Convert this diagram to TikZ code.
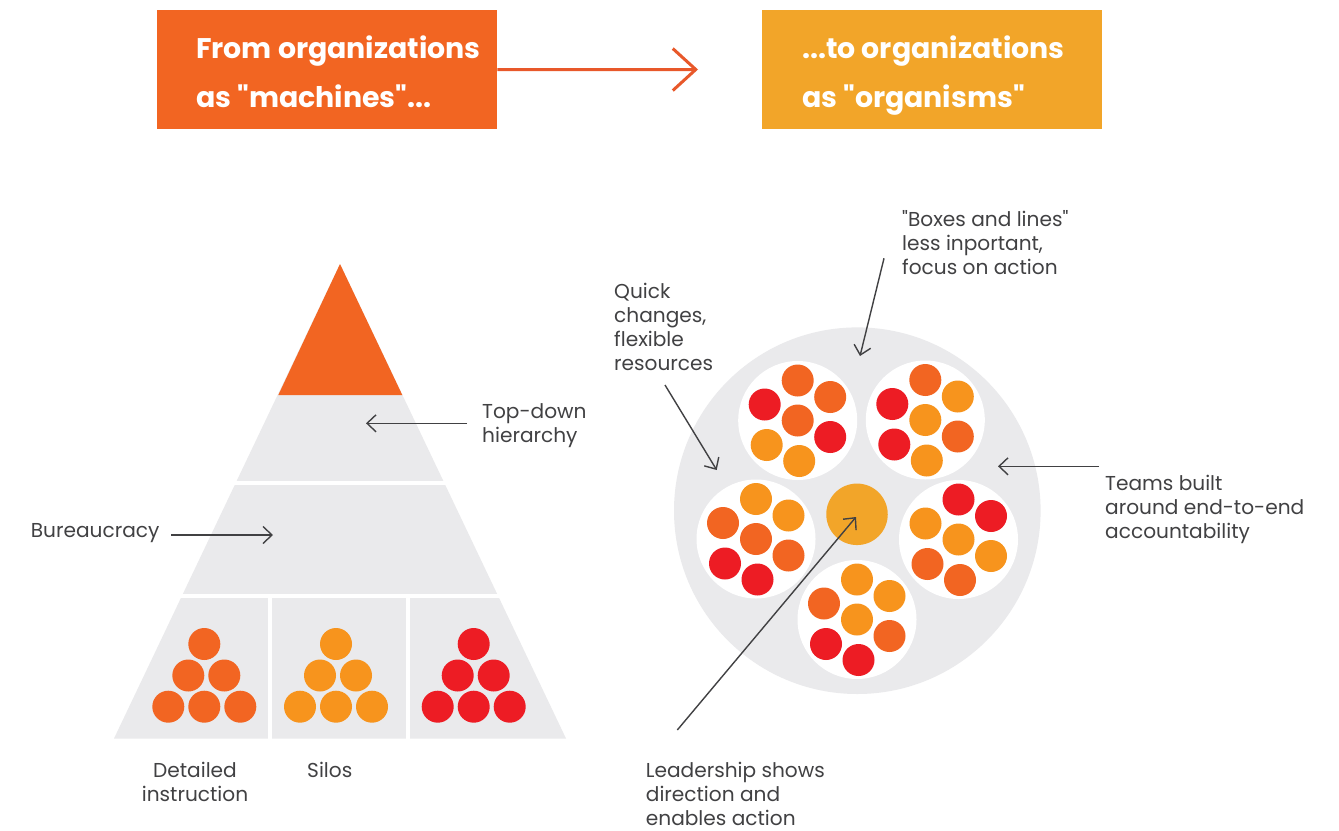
\documentclass[tikz,border=0pt]{standalone}
\usepackage{fontspec}
\setmainfont{Poppins}
\usetikzlibrary{arrows.meta}
\definecolor{cOr}{HTML}{F26522}
\definecolor{cYe}{HTML}{F7941D}
\definecolor{cRd}{HTML}{ED1C24}
\definecolor{cGold}{HTML}{F2A529}
\definecolor{cGray}{HTML}{EAEAEC}
\definecolor{cText}{HTML}{414143}
\definecolor{cArrow}{HTML}{E8582A}
\newcommand\qd{\textquotedbl}
\newcommand\teamcl[9]{%
  \begin{scope}[shift={(#1,#2)}]
    \fill[white] (0,0) circle[radius=59.5bp];
    \fill[#3] (0,-40) circle[radius=16bp];
    \fill[#4] (32.5,-23.5) circle[radius=16bp];
    \fill[#5] (32.5,16.5) circle[radius=16bp];
    \fill[#6] (1.5,40.5) circle[radius=16bp];
    \fill[#7] (-31,24.5) circle[radius=16bp];
    \fill[#8] (-33,-16) circle[radius=16bp];
    \fill[#9] (0,0) circle[radius=16bp];
  \end{scope}}
\newcommand\pyrcl[3]{%
  \begin{scope}[shift={(#1,#2)}]
    \foreach \dx/\dy in {0/0,-16/31.5,20/31.5,-36/62.7,0/62.7,36/62.7}
      \fill[#3] (\dx,\dy) circle[radius=16bp];
  \end{scope}}
\begin{document}
\begin{tikzpicture}[x=1bp,y=-1bp,
  lbl/.style={font=\fontsize{20.2}{24}\selectfont, text=cText, align=left, inner sep=0, anchor=base west},
  lblc/.style={lbl, align=center, anchor=base},
  head/.style={font=\fontsize{28.5}{49}\selectfont\bfseries, text=white, align=left, inner sep=0, anchor=base west},
  hbox/.style={minimum width=340bp, minimum height=119bp, inner sep=0, anchor=north west, draw=none},
  pointer/.style={draw=cText, line width=1.4bp, -{Straight Barb[length=9bp, width=17bp, line width=1.4bp]}},
  gap/.style={draw=white, line width=4bp}]
\fill[white] (0,0) rectangle (1339,830);
\useasboundingbox (0,0) rectangle (1339,830);

% header (base anchor = last line baseline)
\node[hbox, fill=cOr] (from) at (157,10) {};
\node[hbox, fill=cGold] (to) at (762,10) {};
\node[head] (fromtxt) at (196,107) {From organizations\\as \qd machines\qd...};
\node[head] (totxt) at (802,107) {...to organizations\\as \qd organisms\qd};
\coordinate (hend) at (698,69.5);
\draw[cArrow, line width=3bp, -{Straight Barb[length=23bp, width=42bp, line width=3bp]}] (from.east) -- (hend);

% pyramid
\fill[cGray] (114,738.5) -- (340,264) -- (566,738.5) -- cycle;
\fill[cOr] (278.3,395) -- (340,264) -- (402.3,395) -- cycle;
\draw[gap] (100,483) -- (600,483);
\draw[gap] (100,595.5) -- (600,595.5);
\draw[gap] (270,595.5) -- (270,742);
\draw[gap] (408,595.5) -- (408,742);
\pyrcl{204.3}{644}{cOr}
\pyrcl{336}{644}{cYe}
\pyrcl{473.7}{644}{cRd}

% organism
\fill[cGray] (857.3,510.7) circle[radius=183.3bp];
\node[circle, fill=cGold, minimum size=61.5bp, inner sep=0] (lead) at (857,514.3) {};
\teamcl{797.7}{420.5}{cOr}{cOr}{cRd}{cYe}{cYe}{cRd}{cOr}
\teamcl{925.3}{420}{cOr}{cYe}{cOr}{cYe}{cRd}{cRd}{cYe}
\teamcl{756}{539}{cYe}{cYe}{cOr}{cRd}{cRd}{cOr}{cOr}
\teamcl{958.5}{539.5}{cRd}{cRd}{cYe}{cOr}{cOr}{cYe}{cYe}
\teamcl{857}{619.5}{cYe}{cYe}{cOr}{cRd}{cRd}{cOr}{cYe}

% labels (base anchor = last line baseline)
\node[lbl] (topdown) at (482,442) {Top-down\\hierarchy};
\node[lbl] (bureau) at (30.7,537.7) {Bureaucracy};
\node[lblc] (detail) at (195,801.7) {Detailed\\instruction};
\node[lbl] (silos) at (307,777.3) {Silos};
\node[lbl] (boxes) at (902,274.7) {\qd Boxes and lines\qd\\less inportant,\\focus on action};
\node[lbl] (quick) at (614,370.3) {Quick\\changes,\\flexible\\resources};
\node[lbl] (teams) at (1105,538) {Teams built\\around end-to-end\\accountability};
\node[lbl] (leader) at (645.7,825) {Leadership shows\\direction and\\enables action};

% pointers
\coordinate (tdS) at (467,423.3); \coordinate (tdE) at (366,423.3);
\coordinate (buS) at (171,535); \coordinate (buE) at (273,535);
\coordinate (bxS) at (884,258.3); \coordinate (bxE) at (860,356);
\coordinate (qkS) at (665,385); \coordinate (qkE) at (716.7,470);
\coordinate (tmS) at (1099,466.3); \coordinate (tmE) at (998,466.3);
\coordinate (ldS) at (677.3,730); \coordinate (ldE) at (856,517);
\draw[pointer] (tdS) -- (tdE);
\draw[pointer] (buS) -- (buE);
\draw[pointer] (bxS) -- (bxE);
\draw[pointer] (qkS) -- (qkE);
\draw[pointer] (tmS) -- (tmE);
\draw[pointer] (ldS) -- (ldE);
\end{tikzpicture}
\end{document}
